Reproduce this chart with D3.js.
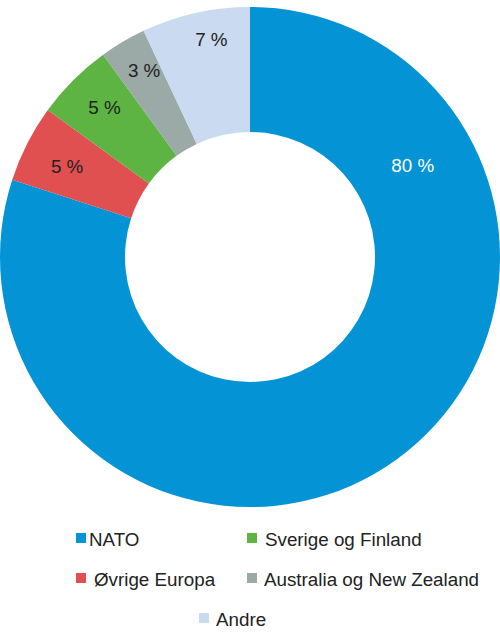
<!DOCTYPE html>
<html>
<head>
<meta charset="utf-8">
<script src="https://cdn.jsdelivr.net/npm/d3@7"></script>
<style>
  body { margin: 0; background: #fff; }
  text { font-family: "Liberation Sans", Arial, sans-serif; }
</style>
</head>
<body>
<div id="chart"></div>
<script>
// Data
const categories = ["NATO", "Øvrige Europa", "Sverige og Finland", "Australia og New Zealand", "Andre"];
const values = [80, 5, 5, 3, 7];
const colors = ["#0493d4", "#e05050", "#5db443", "#9ba9a7", "#cadaf1"];
const legendOrder = ["NATO", "Sverige og Finland", "Øvrige Europa", "Australia og New Zealand", "Andre"];

const width = 500, height = 637;
const cx = 250, cy = 257;
const outerR = 250, innerR = 125;
const fontSize = "18.8px";

const svg = d3.select("#chart")
  .append("svg")
  .attr("width", width)
  .attr("height", height);

const g = svg.append("g")
  .attr("transform", `translate(${cx},${cy})`);

const color = d3.scaleOrdinal().domain(categories).range(colors);

const pie = d3.pie()
  .value(d => d.value)
  .sort(null);

const data = categories.map((c, i) => ({ name: c, value: values[i] }));
const arcs = pie(data);

const arc = d3.arc().innerRadius(innerR).outerRadius(outerR);

g.selectAll("path")
  .data(arcs)
  .enter()
  .append("path")
    .attr("d", arc)
    .attr("fill", d => color(d.data.name));

// label placement (radius, fraction along slice) - like the original layout
const labelR = [187, 204, 209, 215, 221];
const labelF = [0.21, 0.46, 0.55, 0.6, 0.6];
function labelPos(d) {
  const a = d.startAngle + (d.endAngle - d.startAngle) * labelF[d.index];
  const r = labelR[d.index];
  return [Math.sin(a) * r, -Math.cos(a) * r];
}

g.selectAll("text.lbl")
  .data(arcs)
  .enter()
  .append("text")
    .attr("class", "lbl")
    .attr("transform", d => `translate(${labelPos(d)})`)
    .attr("text-anchor", "middle")
    .attr("dy", "0.36em")
    .style("font-size", fontSize)
    .style("fill", d => d.index === 0 ? "#fff" : "#222")
    .text(d => d.data.value + " %");

// Legend
const legendPos = {
  "NATO": [76, 89, 538],
  "Sverige og Finland": [247, 265, 538],
  "Øvrige Europa": [76, 94, 578],
  "Australia og New Zealand": [247, 264, 578],
  "Andre": [199, 216, 618]
};

const legend = svg.append("g");
legendOrder.forEach(name => {
  const [sx, tx, y] = legendPos[name];
  legend.append("rect")
    .attr("x", sx).attr("y", y - 5)
    .attr("width", 10).attr("height", 10)
    .attr("fill", color(name));
  legend.append("text")
    .attr("x", tx).attr("y", y + 8)
    .style("font-size", fontSize)
    .style("fill", "#222")
    .text(name);
});
</script>
</body>
</html>
